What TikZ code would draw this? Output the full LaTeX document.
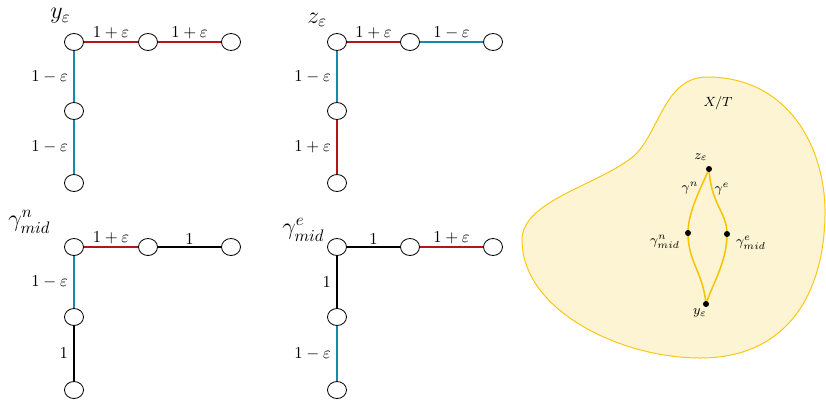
\documentclass[tikz,border=0pt]{standalone}
\usepackage{amsmath}
\usetikzlibrary{shapes.geometric}
\definecolor{edgered}{RGB}{178,22,22}
\definecolor{edgeblue}{RGB}{22,138,172}
\definecolor{blobfill}{RGB}{253,244,211}
\definecolor{blobline}{RGB}{250,200,20}
\definecolor{pathgold}{RGB}{245,195,0}
\tikzset{
  vtx/.style={draw, ellipse, line width=0.5pt, minimum width=11.4pt, minimum height=10.2pt, inner sep=0pt, fill=white},
  ered/.style={draw=edgered, line width=1.3pt},
  eblue/.style={draw=edgeblue, line width=1.3pt},
  eblack/.style={draw=black, line width=1.3pt},
  hlab/.style={midway, above, inner sep=1pt},
  vlab/.style={midway, left, inner sep=3pt},
  ttl/.style={font=\Large, inner sep=0pt},
  dot/.style={circle, fill=black, inner sep=0pt, minimum size=3.6pt},
  blab/.style={font=\footnotesize, inner sep=0pt},
  gcurve/.style={draw=pathgold, line width=0.9pt}
}
\begin{document}
\begin{tikzpicture}[x=0.6pt,y=-0.6pt]
\useasboundingbox (0,0) rectangle (826,399);

% ---------- graph 1: y_eps ----------
\node[vtx] (a1) at (74,42) {};
\node[vtx] (a2) at (148,42) {};
\node[vtx] (a3) at (231,42) {};
\node[vtx] (a4) at (74,111) {};
\node[vtx] (a5) at (74,183) {};
\draw[ered] (a1) -- node[hlab,black] {$1+\varepsilon$} (a2);
\draw[ered] (a2) -- node[hlab,black] {$1+\varepsilon$} (a3);
\draw[eblue] (a1) -- node[vlab,black] {$1-\varepsilon$} (a4);
\draw[eblue] (a4) -- node[vlab,black] {$1-\varepsilon$} (a5);
\node[ttl, anchor=west] (t1) at (50,16) {$y_\varepsilon$};

% ---------- graph 2: z_eps ----------
\node[vtx] (b1) at (337,42) {};
\node[vtx] (b2) at (410,42) {};
\node[vtx] (b3) at (493,42) {};
\node[vtx] (b4) at (337,111) {};
\node[vtx] (b5) at (337,183) {};
\draw[ered] (b1) -- node[hlab,black] {$1+\varepsilon$} (b2);
\draw[eblue] (b2) -- node[hlab,black] {$1-\varepsilon$} (b3);
\draw[eblue] (b1) -- node[vlab,black] {$1-\varepsilon$} (b4);
\draw[ered] (b4) -- node[vlab,black] {$1+\varepsilon$} (b5);
\node[ttl, anchor=west] (t2) at (307,20) {$z_\varepsilon$};

% ---------- graph 3: gamma^n_mid ----------
\node[vtx] (c1) at (74,247) {};
\node[vtx] (c2) at (148,247) {};
\node[vtx] (c3) at (231,247) {};
\node[vtx] (c4) at (74,317) {};
\node[vtx] (c5) at (74,390) {};
\draw[ered] (c1) -- node[hlab,black] {$1+\varepsilon$} (c2);
\draw[eblack] (c2) -- node[hlab,black] {$1$} (c3);
\draw[eblue] (c1) -- node[vlab,black] {$1-\varepsilon$} (c4);
\draw[eblack] (c4) -- node[vlab,black] {$1$} (c5);
\node[ttl, anchor=west] (t3) at (8,222) {$\gamma^n_{mid}$};

% ---------- graph 4: gamma^e_mid ----------
\node[vtx] (d1) at (337,247) {};
\node[vtx] (d2) at (410,247) {};
\node[vtx] (d3) at (493,247) {};
\node[vtx] (d4) at (337,317) {};
\node[vtx] (d5) at (337,390) {};
\draw[eblack] (d1) -- node[hlab,black] {$1$} (d2);
\draw[ered] (d2) -- node[hlab,black] {$1+\varepsilon$} (d3);
\draw[eblack] (d1) -- node[vlab,black] {$1$} (d4);
\draw[eblue] (d4) -- node[vlab,black] {$1-\varepsilon$} (d5);
\node[ttl, anchor=west] (t4) at (282,230) {$\gamma^e_{mid}$};

% ---------- blob X/T ----------
\draw[draw=blobline, fill=blobfill, line width=0.6pt]
  (707,77) .. controls (790,77) and (826,150) .. (825,215)
  .. controls (824,290) and (790,358) .. (700,358)
  .. controls (620,358) and (522,310) .. (522,240)
  .. controls (522,200) and (600,185) .. (635,155)
  .. controls (660,130) and (665,77) .. cycle;
\node[blab] (xt) at (718,103) {$X/T$};

\coordinate (z) at (709,169);
\coordinate (gn) at (688,233);
\coordinate (ge) at (727,234);
\coordinate (y) at (706,304);

\draw[gcurve] (z) .. controls (700,190) and (688,212) .. (gn);
\draw[gcurve] (gn) .. controls (688,262) and (703,272) .. (y);
\draw[gcurve] (z) .. controls (711,205) and (727,212) .. (ge);
\draw[gcurve] (ge) .. controls (727,262) and (712,285) .. (y);
\node[dot] (zd) at (z) {};
\node[dot] (gnd) at (gn) {};
\node[dot] (ged) at (ge) {};
\node[dot] (yd) at (y) {};

\node[blab] (lz) at (701,157) {$z_\varepsilon$};
\node[blab] (lgn) at (690,188) {$\gamma^n$};
\node[blab] (lge) at (722,189) {$\gamma^e$};
\node[blab] (lgnm) at (665,242) {$\gamma^n_{mid}$};
\node[blab] (lgem) at (751,243) {$\gamma^e_{mid}$};
\node[blab] (ly) at (700,313) {$y_\varepsilon$};
\end{tikzpicture}
\end{document}
